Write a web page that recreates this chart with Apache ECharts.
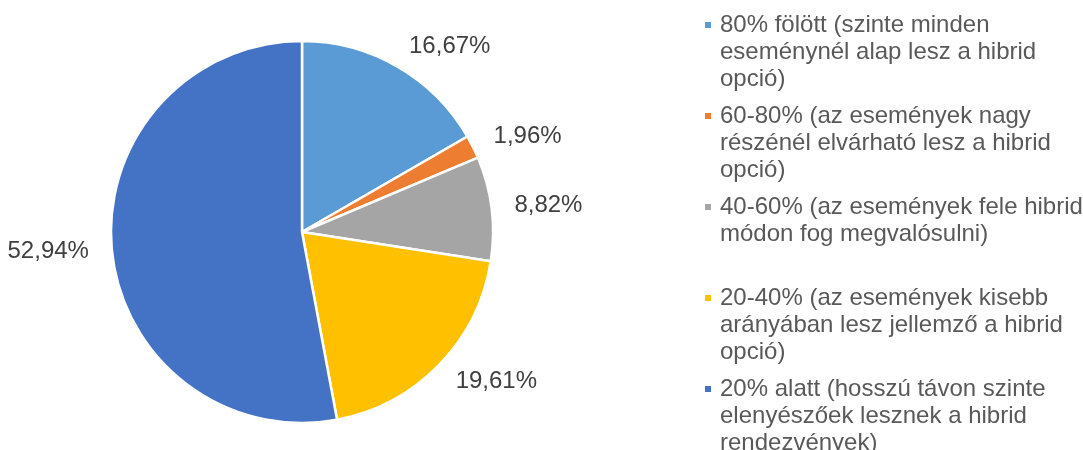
<!DOCTYPE html>
<html>
<head>
<meta charset="utf-8">
<script src="https://cdn.jsdelivr.net/npm/echarts@6/dist/echarts.min.js"></script>
<style>
  html, body { margin: 0; padding: 0; background: #fff; }
  #chart { width: 1083px; height: 450px; }
</style>
</head>
<body>
<div id="chart"></div>
<script>
// kategóriák (jelmagyarázat szövege, sortörésekkel)
const categories = [
  '80% fölött (szinte minden\neseménynél alap lesz a hibrid\nopció)',
  '60-80% (az események nagy\nrészénél elvárható lesz a hibrid\nopció)',
  '40-60% (az események fele hibrid\nmódon fog megvalósulni)',
  '20-40% (az események kisebb\narányában lesz jellemző a hibrid\nopció)',
  '20% alatt (hosszú távon szinte\nelenyészőek lesznek a hibrid\nrendezvények)'
]
// százalékos megoszlás
const shares = [16.67, 1.96, 8.82, 19.61, 52.94]
const colors = ['#5B9BD5', '#ED7D31', '#A5A5A5', '#FFC000', '#4472C4']

const chart = echarts.init(document.getElementById('chart'))

// rich stílusok a jelmagyarázat négyzeteihez
const rich = {
  g: { width: 9, lineHeight: 27 },
  s: { width: 15, lineHeight: 27 }
}
colors.forEach((c, i) => {
  rich['m' + i] = { width: 6, height: 6, backgroundColor: c, lineHeight: 27, verticalAlign: 'middle' }
})

chart.setOption({
  animation: false,
  color: colors,
  legend: {
    orient: 'vertical',
    left: 699,
    top: 11.5,
    height: 520,
    padding: 0,
    itemGap: 10,
    itemWidth: 0,
    itemHeight: 0,
    selectedMode: false,
    data: categories,
    textStyle: {
      fontFamily: 'Liberation Sans, Arial, sans-serif',
      fontSize: 24,
      lineHeight: 27,
      color: '#595959',
      rich: rich
    },
    formatter: function (name) {
      const idx = categories.indexOf(name)
      const lines = name.split('\n')
      while (lines.length < 3) lines.push('')
      return lines.map((l, i) => (i === 0 ? '{m' + idx + '|}{g|}' : '{s|}') + l).join('\n')
    }
  },
  series: [{
    type: 'pie',
    center: [302, 232],
    radius: 191,
    startAngle: 90,
    clockwise: true,
    avoidLabelOverlap: false,
    itemStyle: {
      borderColor: '#fff',
      borderWidth: 2.5
    },
    label: {
      show: true,
      position: 'outside',
      distanceToLabelLine: 0,
      fontFamily: 'Liberation Sans, Arial, sans-serif',
      fontSize: 24,
      color: '#404040',
      formatter: p => p.value.toFixed(2).replace('.', ',') + '%'
    },
    labelLine: {
      show: false,
      length: 23,
      length2: 0
    },
    emphasis: { disabled: true },
    data: categories.map((name, i) => ({ name: name, value: shares[i] }))
  }]
})
</script>
</body>
</html>
